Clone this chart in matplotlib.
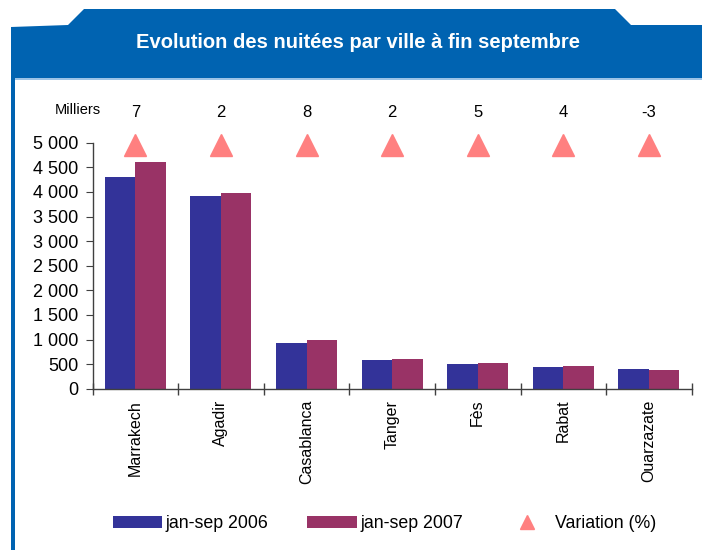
import matplotlib
matplotlib.use("Agg")
import matplotlib.pyplot as plt
from matplotlib.patches import Polygon, Rectangle, Patch
from matplotlib.lines import Line2D
from matplotlib.ticker import FuncFormatter, FixedLocator
import numpy as np

# ---- data ----
cities = ["Marrakech", "Agadir", "Casablanca", "Tanger", "Fès", "Rabat", "Ouarzazate"]
nuitees_2006 = [4300, 3920, 920, 592, 510, 450, 408]
nuitees_2007 = [4610, 3975, 1000, 612, 530, 470, 388]
variation = [7, 2, 8, 2, 5, 4, -3]
yticks = [0, 500, 1000, 1500, 2000, 2500, 3000, 3500, 4000, 4500, 5000]
title = "Evolution des nuitées par ville à fin septembre"
labels = ["jan-sep 2006", "jan-sep 2007", "Variation (%)"]
unit = "Milliers"

plt.rcParams['font.family'] = ['Liberation Sans', 'DejaVu Sans']

W, H = 702, 550
fig = plt.figure(figsize=(W / 100, H / 100), dpi=100)

def fx(x):
    return x / W

def fy(y):
    return 1 - y / H

BLUE = '#0063B1'
# header shape
hdr = [(11, 78), (11, 27), (68, 25), (84, 9), (615, 9), (631, 25), (702, 25), (702, 78)]
fig.patches.append(Polygon([(fx(a), fy(b)) for a, b in hdr], closed=True,
                           transform=fig.transFigure, facecolor=BLUE, edgecolor='none', zorder=0))
fig.patches.append(Rectangle((fx(11), fy(550)), fx(4), 472 / H, transform=fig.transFigure,
                             facecolor=BLUE, edgecolor='none', zorder=0))
fig.patches.append(Rectangle((fx(15), fy(80)), fx(687), 2 / H, transform=fig.transFigure,
                             facecolor='#9cc3e6', edgecolor='none', zorder=0))
fig.text(fx(358), fy(43), title, color='white', fontsize=14.5, fontweight='bold',
         ha='center', va='center')

# axes
left, right, top, bottom = 92.5, 691.7, 142.7, 388.7
ax = fig.add_axes([fx(left), fy(bottom), fx(right - left), (bottom - top) / H])

x = np.arange(len(cities))
bw = 0.356
ax.bar(x - bw / 2, nuitees_2006, width=bw, color='#333399', zorder=2)
ax.bar(x + bw / 2, nuitees_2007, width=bw, color='#993366', zorder=2)
ax.plot(x, [4950] * len(x), linestyle='none', marker='^', markersize=16,
        color='#FF8080', clip_on=False, zorder=3)
for xi, v in zip(x, variation):
    ax.annotate(str(v), (xi, 5000), xytext=(0, 30), textcoords='offset pixels',
                ha='center', va='center', fontsize=12)
fig.text(fx(77.5), fy(110.5), unit, ha='center', va='center', fontsize=10.5)

ax.set_xlim(-0.5, len(cities) - 0.5)
ax.set_ylim(0, 5000)
ax.set_yticks(yticks)
ax.yaxis.set_major_formatter(FuncFormatter(lambda v, p: f"{int(v):,}".replace(",", " ")))
ax.set_xticks(x)
ax.set_xticklabels(cities, rotation=90, fontsize=11.5, va='top')
ax.xaxis.set_minor_locator(FixedLocator(np.arange(-0.5, len(cities), 1.0)))
ax.tick_params(axis='x', which='major', length=0, pad=8)
ax.tick_params(axis='x', which='minor', length=9, direction='inout', color='#404040', width=1)
ax.tick_params(axis='y', which='major', length=5, direction='out', color='#404040',
               labelsize=13, pad=5)
for s in ['top', 'right']:
    ax.spines[s].set_visible(False)
for s in ['left', 'bottom']:
    ax.spines[s].set_color('#404040')
    ax.spines[s].set_linewidth(1)

handles = [Patch(facecolor='#333399', edgecolor='none'),
           Patch(facecolor='#993366', edgecolor='none'),
           Line2D([], [], linestyle='none', marker='^', markersize=10, color='#FF8080')]
fig.legend(handles, labels, loc='center', bbox_to_anchor=(fx(384.5), fy(524)), ncol=3,
           frameon=False, fontsize=12.8, handlelength=2.8, handleheight=0.68,
           handletextpad=0.18, columnspacing=2.2)

fig.savefig("out.png", dpi=100)
